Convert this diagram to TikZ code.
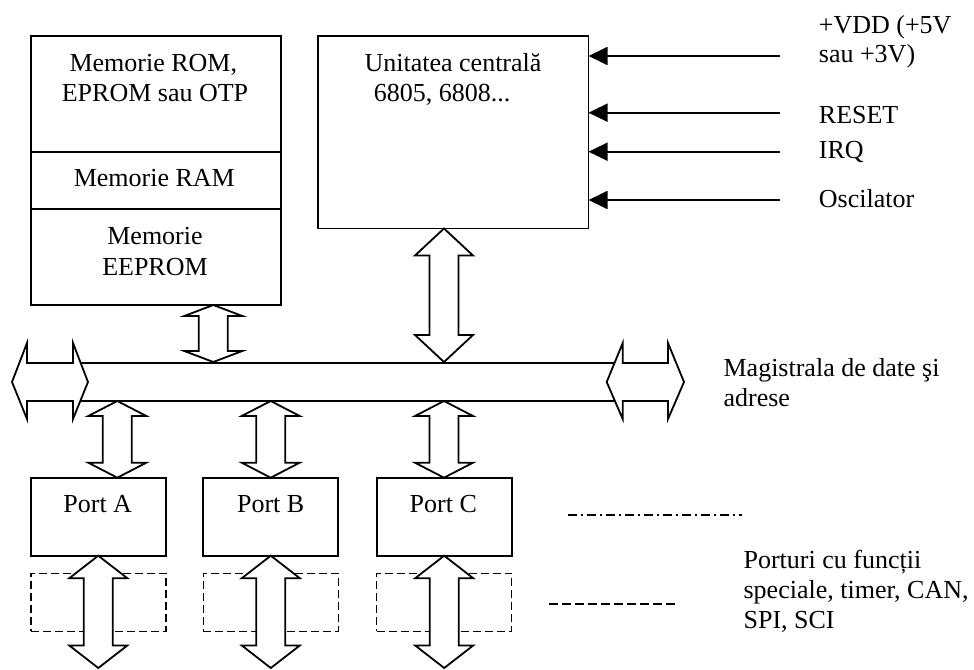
\documentclass[tikz,border=0pt]{standalone}
\usepackage{fontspec}
\setmainfont{Liberation Serif}
\usetikzlibrary{arrows.meta,calc}
% vertical double arrow: centre x, top y, bottom y, head length
\newcommand{\vdarrow}[4]{%
  \draw[dblarrow] (#1,#2) -- (#1+29,#2+#4) -- (#1+14.5,#2+#4) -- (#1+14.5,#3-#4)
    -- (#1+29,#3-#4) -- (#1,#3) -- (#1-29,#3-#4) -- (#1-14.5,#3-#4)
    -- (#1-14.5,#2+#4) -- (#1-29,#2+#4) -- cycle;}
% horizontal double arrow: left x, right x, head length
\newcommand{\hdarrow}[3]{%
  \draw[dblarrow] (#1,382) -- (#1+#3,343) -- (#1+#3,363) -- (#2-#3,363)
    -- (#2-#3,343) -- (#2,382) -- (#2-#3,419) -- (#2-#3,401)
    -- (#1+#3,401) -- (#1+#3,419) -- cycle;}
\begin{document}
\begin{tikzpicture}[x=1pt,y=-1pt,line width=1.8pt,
  box/.style={draw,rectangle,inner sep=0pt,outer sep=0pt},
  dbox/.style={box,line width=1.5pt,dash pattern=on 8pt off 4pt},
  lbl/.style={font=\fontsize{26}{30}\selectfont,inner sep=0pt},
  dblarrow/.style={draw,fill=white,line join=miter},
  inarrow/.style={-{Triangle[length=19pt,width=18pt]}},
  ]
\useasboundingbox (0,0) rectangle (974,669);

% memory blocks
\node[box,minimum width=250.3pt,minimum height=116pt] (rom) at (155.85,93.7) {};
\node[box,minimum width=250.3pt,minimum height=57.3pt] (ram) at (155.85,180.35) {};
\node[box,minimum width=250.3pt,minimum height=96pt] (eeprom) at (155.85,257) {};
\node[lbl,anchor=base] (t1) at (153.3,71.7) {Memorie ROM,};
\node[lbl,anchor=base] (t2) at (155,101.7) {EPROM sau OTP};
\node[lbl,anchor=base] (t3) at (154.3,186.7) {Memorie RAM};
\node[lbl,anchor=base] (t4) at (155,244) {Memorie};
\node[lbl,anchor=base] (t5) at (155,275) {EEPROM};

% CPU
\node[box,minimum width=270.2pt,minimum height=192.5pt] (cpu) at (453.4,132.25) {};
\node[lbl,anchor=base] (c1) at (453,71.7) {Unitatea centrală};
\node[lbl,anchor=base] (c2) at (442,101.7) {6805, 6808...};

% inputs
\coordinate (vdd) at (780,56);
\coordinate (rst) at (780,112.7);
\coordinate (irq) at (780,151.7);
\coordinate (osc) at (780,200);
\draw[inarrow] (vdd) -- (vdd -| cpu.east);
\draw[inarrow] (rst) -- (rst -| cpu.east);
\draw[inarrow] (irq) -- (irq -| cpu.east);
\draw[inarrow] (osc) -- (osc -| cpu.east);
\node[lbl,anchor=base west] (l1) at (818,34) {+VDD (+5V};
\node[lbl,anchor=base west] (l2) at (818,63) {sau +3V)};
\node[lbl,anchor=base west] (l3) at (818,123) {RESET};
\node[lbl,anchor=base west] (l4) at (818,158) {IRQ};
\node[lbl,anchor=base west] (l5) at (818,207) {Oscilator};

% bus
\draw (80.7,363) -- (614.5,363);
\draw (80.7,401) -- (614.5,401);
\hdarrow{12}{88}{15}
\hdarrow{606.7}{684}{16}
\node[lbl,anchor=base west] (b1) at (722.7,376.7) {Magistrala de date şi};
\node[lbl,anchor=base west] (b2) at (722.7,406.7) {adrese};

% arrows to bus
\vdarrow{213.3}{305}{362}{11}
\vdarrow{444}{228.5}{362}{27}

% ports
\node[box,minimum width=135pt,minimum height=78pt] (pa) at (98.3,516.7) {};
\node[box,minimum width=135pt,minimum height=78pt] (pb) at (270.8,516.7) {};
\node[box,minimum width=135pt,minimum height=78pt] (pc) at (444.2,516.7) {};
\node[lbl,anchor=base] (pat) at (97.7,512.3) {Port A};
\node[lbl,anchor=base] (pbt) at (270.7,512.3) {Port B};
\node[lbl,anchor=base] (pct) at (443.3,512.3) {Port C};
\vdarrow{117.3}{401}{477.7}{15}
\vdarrow{270.7}{401}{477.7}{15}
\vdarrow{444}{401}{477.7}{15}

% special function ports (dashed)
\node[dbox,minimum width=135pt,minimum height=58pt] (da) at (98.3,602.3) {};
\node[dbox,minimum width=135pt,minimum height=58pt] (db) at (270.8,602.3) {};
\node[dbox,minimum width=135pt,minimum height=58pt] (dc) at (444.2,602.3) {};
\vdarrow{98.3}{555.7}{668}{22.5}
\vdarrow{270.8}{555.7}{668}{22.5}
\vdarrow{444.2}{555.7}{668}{22.5}

% legend lines
\coordinate (dd1) at (568,515);
\coordinate (dd2) at (742,515);
\draw[line width=1.3pt,dash pattern=on 9pt off 4pt on 2pt off 4pt] (dd1) -- (dd2);
\coordinate (ds1) at (549,604);
\coordinate (ds2) at (678,604);
\draw[line width=1.3pt,dash pattern=on 9pt off 4pt] (ds1) -- (ds2);
\node[lbl,anchor=base west] (s1) at (742.7,568) {Porturi cu funcții};
\node[lbl,anchor=base west] (s2) at (742.7,598) {speciale, timer, CAN,};
\node[lbl,anchor=base west] (s3) at (742.7,628) {SPI, SCI};
\end{tikzpicture}
\end{document}
